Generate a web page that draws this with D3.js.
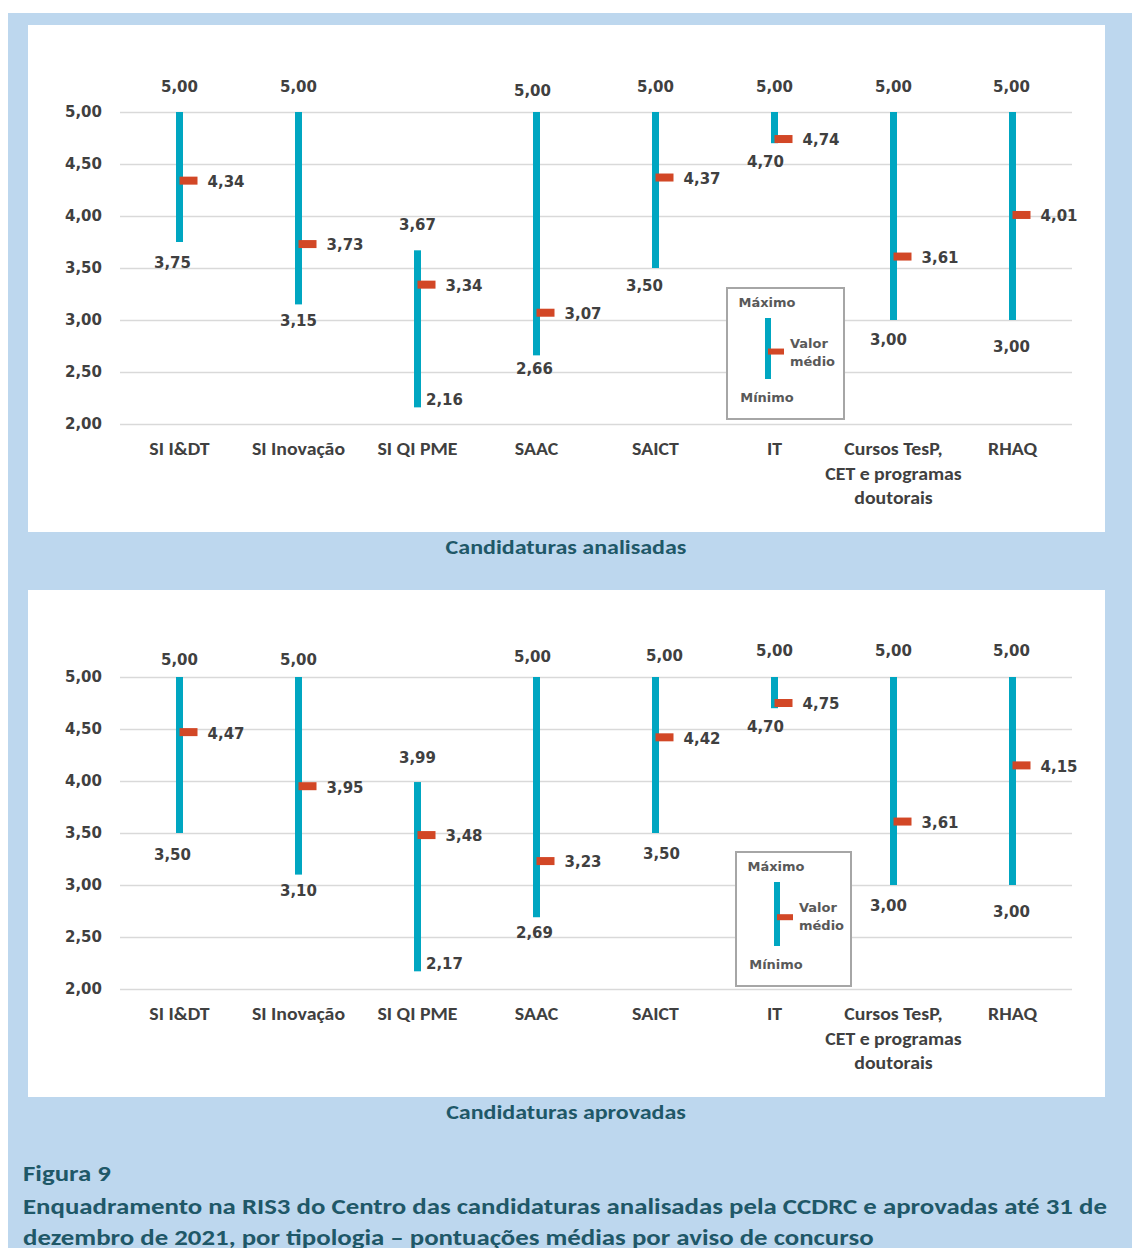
<!DOCTYPE html>
<html>
<head>
<meta charset="utf-8">
<script src="https://cdn.jsdelivr.net/npm/d3@7"></script>
<style>
  html, body { margin: 0; padding: 0; background: #ffffff; }
  svg { display: block; }
</style>
</head>
<body>
<svg id="fig" width="1132" height="1248"></svg>
<script>
// Scores per call type (min / max / mean), two panels
const categories = [
  ["SI I&DT"],
  ["SI Inovação"],
  ["SI QI PME"],
  ["SAAC"],
  ["SAICT"],
  ["IT"],
  ["Cursos TesP,", "CET e programas", "doutorais"],
  ["RHAQ"]
];
const yTicks = [2.0, 2.5, 3.0, 3.5, 4.0, 4.5, 5.0];

const analisadasMax  = [5.00, 5.00, 3.67, 5.00, 5.00, 5.00, 5.00, 5.00];
const analisadasMin  = [3.75, 3.15, 2.16, 2.66, 3.50, 4.70, 3.00, 3.00];
const analisadasMean = [4.34, 3.73, 3.34, 3.07, 4.37, 4.74, 3.61, 4.01];

const aprovadasMax  = [5.00, 5.00, 3.99, 5.00, 5.00, 5.00, 5.00, 5.00];
const aprovadasMin  = [3.50, 3.10, 2.17, 2.69, 3.50, 4.70, 3.00, 3.00];
const aprovadasMean = [4.47, 3.95, 3.48, 3.23, 4.42, 4.75, 3.61, 4.15];

const panelTitles = ["Candidaturas analisadas", "Candidaturas aprovadas"];
const figureLabel = "Figura 9";
const captionLines = [
  "Enquadramento na RIS3 do Centro das candidaturas analisadas pela CCDRC e aprovadas até 31 de",
  "dezembro de 2021, por tipologia – pontuações médias por aviso de concurso"
];
const legendText = { max: "Máximo", mean: ["Valor", "médio"], min: "Mínimo" };

// Data-label nudges (pixels) so labels sit clear of the marks
const labelNudges = [
  {
    maxDx: [0, 0, 0, -4, 0, 0, 0, -1],
    maxDy: [-25, -25, -26, -21, -25, -25, -25, -25],
    minDx: [-7, 0, 27, -2, -11, -9, -5, -1],
    minDy: [21, 16, -8, 13, 18, 18, 20, 27]
  },
  {
    maxDx: [0, 0, 0, -4, 9, 0, 0, -1],
    maxDy: [-17, -17, -24, -20, -21, -26, -26, -26],
    minDx: [-7, 0, 27, -2, 6, -9, -5, -1],
    minDy: [22, 16, -8, 15, 21, 18, 21, 27]
  }
];

// ---- styling ----
const C = {
  frame: "#bdd7ee",
  panel: "#ffffff",
  grid: "#d9d9d9",
  bar: "#00a6c1",
  mean: "#d24726",
  text: "#404040",
  legendText: "#595959",
  legendBorder: "#a6a6a6",
  caption: "#1f5868"
};
const numFont = "'DejaVu Sans', Verdana, sans-serif";
const txtFont = "Carlito, Calibri, Lato, 'Open Sans', sans-serif";

// stretch text horizontally by factor k (the humanist face runs narrow)
function widen(sel, k) {
  sel.each(function () {
    const len = this.getComputedTextLength();
    this.setAttribute("textLength", (len * k).toFixed(1));
    this.setAttribute("lengthAdjust", "spacingAndGlyphs");
  });
}

const locale = d3.formatLocale({ decimal: ",", thousands: ".", grouping: [3], currency: ["", " €"] });
const fmt = locale.format(".2f");

const svg = d3.select("#fig");

// light-blue frame
svg.append("rect").attr("x", 8).attr("y", 13).attr("width", 1124).attr("height", 1235).attr("fill", C.frame);

const panels = [
  { top: 25, plotTop: 112, max: analisadasMax, min: analisadasMin, mean: analisadasMean,
    legend: { x: 727, y: 288, w: 117, h: 131 } },
  { top: 590, plotTop: 677, max: aprovadasMax, min: aprovadasMin, mean: aprovadasMean,
    legend: { x: 736, y: 852, w: 115, h: 134 } }
];

const plotLeft = 120, plotRight = 1072, plotH = 312;

panels.forEach((p, pi) => {
  const nud = labelNudges[pi];
  svg.append("rect").attr("x", 28).attr("y", p.top).attr("width", 1077).attr("height", 507).attr("fill", C.panel);

  const g = svg.append("g");
  const x = d3.scaleBand().domain(d3.range(categories.length)).range([plotLeft, plotRight]);
  const y = d3.scaleLinear().domain([2, 5]).range([p.plotTop + plotH, p.plotTop]);
  const cx = i => x(i) + x.bandwidth() / 2;

  // y axis with gridlines
  const yAxis = d3.axisLeft(y).tickValues(yTicks).tickFormat(fmt)
    .tickSize(-(plotRight - plotLeft)).tickPadding(18);
  const ag = g.append("g").attr("transform", `translate(${plotLeft},0)`).call(yAxis);
  ag.select(".domain").remove();
  ag.selectAll(".tick line").attr("stroke", C.grid).attr("stroke-width", 1.6);
  ag.selectAll(".tick text")
    .attr("fill", C.text).attr("font-family", numFont).attr("font-weight", "bold").attr("font-size", 15);

  // category labels
  const cat = g.append("g").selectAll("text").data(categories).join("text")
    .attr("x", (d, i) => cx(i))
    .attr("y", p.plotTop + plotH + 25)
    .attr("text-anchor", "middle")
    .attr("fill", C.text).attr("font-family", txtFont).attr("font-weight", "bold").attr("font-size", 18);
  const catLines = cat.selectAll("tspan").data(d => d).join("tspan")
    .attr("x", function () { return this.parentNode.getAttribute("x"); })
    .attr("dy", (d, j) => j === 0 ? "0.35em" : 24.5)
    .text(d => d);
  widen(catLines, 1.1);

  const idx = d3.range(categories.length);

  // range bars (min to max)
  g.append("g").selectAll("rect").data(idx).join("rect")
    .attr("x", i => cx(i) - 3.5)
    .attr("width", 7)
    .attr("y", i => y(p.max[i]))
    .attr("height", i => y(p.min[i]) - y(p.max[i]))
    .attr("fill", C.bar);

  // mean markers
  g.append("g").selectAll("rect").data(idx).join("rect")
    .attr("x", i => cx(i))
    .attr("width", 18)
    .attr("y", i => y(p.mean[i]) - 4)
    .attr("height", 8)
    .attr("fill", C.mean);

  const lbl = sel => sel.attr("fill", C.text).attr("font-family", numFont)
    .attr("font-weight", "bold").attr("font-size", 15).attr("dy", "0.36em");

  // max labels
  g.append("g").selectAll("text").data(idx).join("text")
    .attr("x", i => cx(i) + nud.maxDx[i])
    .attr("y", i => y(p.max[i]) + nud.maxDy[i])
    .attr("text-anchor", "middle").call(lbl)
    .text(i => fmt(p.max[i]));

  // min labels
  g.append("g").selectAll("text").data(idx).join("text")
    .attr("x", i => cx(i) + nud.minDx[i])
    .attr("y", i => y(p.min[i]) + nud.minDy[i])
    .attr("text-anchor", "middle").call(lbl)
    .text(i => fmt(p.min[i]));

  // mean labels
  g.append("g").selectAll("text").data(idx).join("text")
    .attr("x", i => cx(i) + 28)
    .attr("y", i => y(p.mean[i]) + 1)
    .attr("text-anchor", "start").call(lbl)
    .text(i => fmt(p.mean[i]));

  // legend box
  const L = p.legend;
  const lg = svg.append("g").attr("transform", `translate(${L.x},${L.y})`);
  lg.append("rect").attr("width", L.w).attr("height", L.h)
    .attr("fill", "#ffffff").attr("stroke", C.legendBorder).attr("stroke-width", 2);
  const ltxt = sel => sel.attr("fill", C.legendText).attr("font-family", numFont)
    .attr("font-weight", "bold").attr("font-size", 13).attr("dy", "0.36em");
  const lh = L.h;
  lg.append("text").attr("x", 40).attr("y", 14).attr("text-anchor", "middle").call(ltxt).text(legendText.max);
  lg.append("rect").attr("x", 38).attr("y", 30).attr("width", 6).attr("height", lh - 70).attr("fill", C.bar);
  lg.append("rect").attr("x", 41).attr("y", 30 + (lh - 70) * 0.55 - 3).attr("width", 16).attr("height", 6).attr("fill", C.mean);
  lg.append("text").attr("x", 63).attr("y", 55).call(ltxt).text(legendText.mean[0]);
  lg.append("text").attr("x", 63).attr("y", 73).call(ltxt).text(legendText.mean[1]);
  lg.append("text").attr("x", 40).attr("y", lh - 22).attr("text-anchor", "middle").call(ltxt).text(legendText.min);

  // panel subtitle
  svg.append("text").attr("x", 566).attr("y", p.top + 507 + 15).attr("dy", "0.35em")
    .attr("text-anchor", "middle").attr("fill", C.caption)
    .attr("font-family", txtFont).attr("font-weight", "bold").attr("font-size", 20)
    .text(panelTitles[pi])
    .call(widen, 1.2);
});

// figure caption
svg.append("text").attr("x", 23).attr("y", 1173).attr("dy", "0.35em")
  .attr("fill", C.caption).attr("font-family", txtFont).attr("font-weight", "bold").attr("font-size", 22)
  .text(figureLabel)
  .call(widen, 1.22);
captionLines.forEach((t, k) => {
  svg.append("text").attr("x", 23).attr("y", 1206 + k * 31).attr("dy", "0.35em")
    .attr("fill", C.caption).attr("font-family", txtFont).attr("font-weight", "bold").attr("font-size", 22)
    .text(t)
    .call(widen, 1.22);
});
</script>
</body>
</html>
